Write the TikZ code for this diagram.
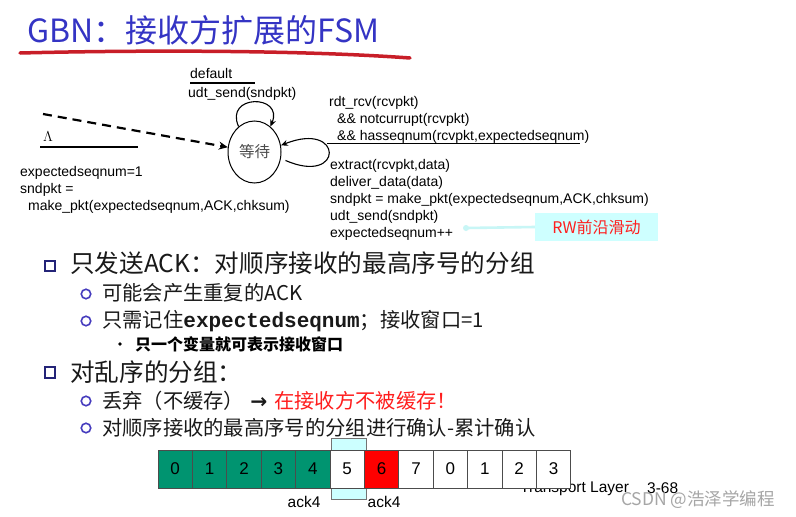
\documentclass[tikz,border=0pt]{standalone}
\usepackage{fontspec}
\setmainfont{Liberation Sans}
\setmonofont{Liberation Mono}
\newfontfamily\cjk{Noto Sans CJK SC}
\newfontfamily\symfont{DejaVu Sans}
\usetikzlibrary{arrows.meta,shapes.geometric}

\definecolor{titleblue}{RGB}{52,52,196}
\definecolor{penred}{RGB}{200,30,40}
\definecolor{seqgreen}{RGB}{0,148,112}
\definecolor{wincyan}{RGB}{204,255,255}
\definecolor{navy}{RGB}{36,36,120}
\definecolor{ringblue}{RGB}{70,60,190}
\definecolor{rwcyan}{RGB}{200,246,246}
\definecolor{notered}{RGB}{255,30,30}

\begin{document}
\begin{tikzpicture}[x=1pt,y=-1pt,
font=\fontsize{14}{17}\selectfont,
heading/.style={anchor=west, inner sep=0pt, text=titleblue, font=\cjk\fontsize{32}{37}\selectfont},
fsm/.style={anchor=west, inner sep=0pt, align=left, font=\fontsize{14}{17}\selectfont},
waitst/.style={ellipse, draw, line width=1pt, minimum width=53pt, minimum height=62pt, inner sep=0pt, text=black!70, font=\cjk\fontsize{15.5}{18}\selectfont},
trans/.style={-{Stealth[length=7pt,width=6pt]}, line width=1.1pt},
initarrow/.style={-{Stealth[length=9pt,width=8pt]}, line width=2.2pt, dash pattern=on 9pt off 6pt},
guard/.style={line width=2.6pt},
lvlone/.style={anchor=west, inner sep=0pt, text=black!90, font=\cjk\fontsize{24.6}{28}\selectfont},
lvltwo/.style={anchor=west, inner sep=0pt, text=black!90, font=\cjk\fontsize{20.3}{24}\selectfont},
lvlthree/.style={anchor=west, inner sep=0pt, font=\cjk\bfseries\fontsize{16}{19}\selectfont},
sqbullet/.style={draw=navy, line width=2.4pt, minimum size=10.5pt, inner sep=0pt},
ringbullet/.style={circle, draw=ringblue, line width=1.6pt, minimum size=9.5pt, inner sep=0pt},
seq/.style={draw=black!70, line width=0.8pt, minimum width=34.4pt, minimum height=38pt, inner sep=0pt, font=\fontsize{17}{20}\selectfont},
win/.style={draw=black!55, line width=0.8pt, fill=wincyan, minimum width=35pt, minimum height=61pt, inner sep=0pt},
ack/.style={inner sep=0pt, font=\fontsize{15.5}{18}\selectfont},
rwbox/.style={fill=wincyan!85!cyan!60, minimum width=123pt, minimum height=28pt, inner sep=0pt, text=notered, font=\cjk\fontsize{16}{19}\selectfont},
wmark/.style={inner sep=0pt, text=black!35, font=\cjk\fontsize{17.5}{21}\selectfont}
]
\useasboundingbox (0,0) rectangle (796,517);
\fill[white] (0,0) rectangle (796,517);

% title
\node[heading] (ttl) at (27,30) {GBN：接收方扩展的FSM};
\draw[penred, line width=3.5pt, line cap=round] (20,53) .. controls (140,50) and (300,50) .. (410,58);

% receiver FSM
\node[waitst] (st) at (254.5,152) {等待};
\coordinate (start) at (43,114);
\draw[initarrow] (start) -- (st);
\draw[trans] (st.122) .. controls (224,94) and (284,94) .. (st.58);
\draw[trans] ([xshift=5pt]st.-18) .. controls (344,186) and (344,120) .. (st.14);

\node[fsm] (dflt) at (190,73) {default};
\draw[guard] (190,83) -- (255,83);
\node[fsm] (dfltact) at (188,94) {udt\_send(sndpkt)};

\node[fsm] (lam) at (43,137) {$\Lambda$};
\draw[guard] (40,147) -- (138,147);
\node[fsm] (initact) at (20,189.5) {expectedseqnum=1\\sndpkt =\\\hspace*{8pt}make\_pkt(expectedseqnum,ACK,chksum)};

\node[fsm] (rcvguard) at (329,119.5) {rdt\_rcv(rcvpkt)\\\hspace*{8pt}\&\& notcurrupt(rcvpkt)\\\hspace*{8pt}\&\& hasseqnum(rcvpkt,expectedseqnum)};
\draw[line width=0.8pt] (327,143) -- (580,143);
\node[fsm] (rcvact) at (330,199.5) {extract(rcvpkt,data)\\deliver\_data(data)\\sndpkt = make\_pkt(expectedseqnum,ACK,chksum)\\udt\_send(sndpkt)\\expectedseqnum++};

\node[rwbox] (rw) at (596.5,227) {RW前沿滑动};
\coordinate (rwtail) at (466,228);
\draw[rwcyan, line width=2.6pt] (rwtail) -- (rw.west);
\fill[rwcyan] (rwtail) circle (3pt);

% bullets
\node[sqbullet] (sq1) at (50,266) {};
\node[lvlone] (t1) at (70,263) {只发送ACK：对顺序接收的最高序号的分组};
\node[ringbullet] (r1) at (86,294) {};
\node[lvltwo] (s1) at (102,293) {可能会产生重复的ACK};
\node[ringbullet] (r2) at (86,321) {};
\node[lvltwo] (s2) at (102,321) {只需记住{\ttfamily\bfseries\fontsize{21}{24}\selectfont expectedseqnum}；接收窗口=1};
\fill (120,344) circle (1.8pt);
\node[lvlthree] (ss1) at (135,344) {只一个变量就可表示接收窗口};

\node[sqbullet] (sq2) at (50,372.5) {};
\node[lvlone] (t2) at (70,372) {对乱序的分组：};
\node[ringbullet] (r3) at (86,401) {};
\node[lvltwo] (s3) at (102,401) {丢弃（不缓存）\hspace{6pt}{\symfont\bfseries →}\hspace{7pt}{\color{notered}在接收方不被缓存！}};
\node[ringbullet] (r4) at (86,428) {};
\node[lvltwo] (s4) at (102,428) {对顺序接收的最高序号的分组进行确认-累计确认};

% sequence space
\node[ack, anchor=west] (lay) at (520,489) {Transport Layer};
\node[ack, anchor=west] (pg) at (647,488) {3-68};
\node[win] (win) at (348.5,468.5) {};
\node[seq, fill=seqgreen] (b0) at (175.2,469) {0};
\node[seq, fill=seqgreen] (b1) at (209.6,469) {1};
\node[seq, fill=seqgreen] (b2) at (244.0,469) {2};
\node[seq, fill=seqgreen] (b3) at (278.4,469) {3};
\node[seq, fill=seqgreen] (b4) at (312.8,469) {4};
\node[seq, fill=white] (b5) at (347.2,469) {5};
\node[seq, fill=red] (b6) at (381.6,469) {6};
\node[seq, fill=white] (b7) at (416.0,469) {7};
\node[seq, fill=white] (b8) at (450.4,469) {0};
\node[seq, fill=white] (b9) at (484.8,469) {1};
\node[seq, fill=white] (b10) at (519.2,469) {2};
\node[seq, fill=white] (b11) at (553.6,469) {3};
\node[ack] (ack1) at (304,502) {ack4};
\node[ack] (ack2) at (384,502) {ack4};

\node[wmark] (wm) at (698,500) {CSDN @浩泽学编程};
\end{tikzpicture}
\end{document}
